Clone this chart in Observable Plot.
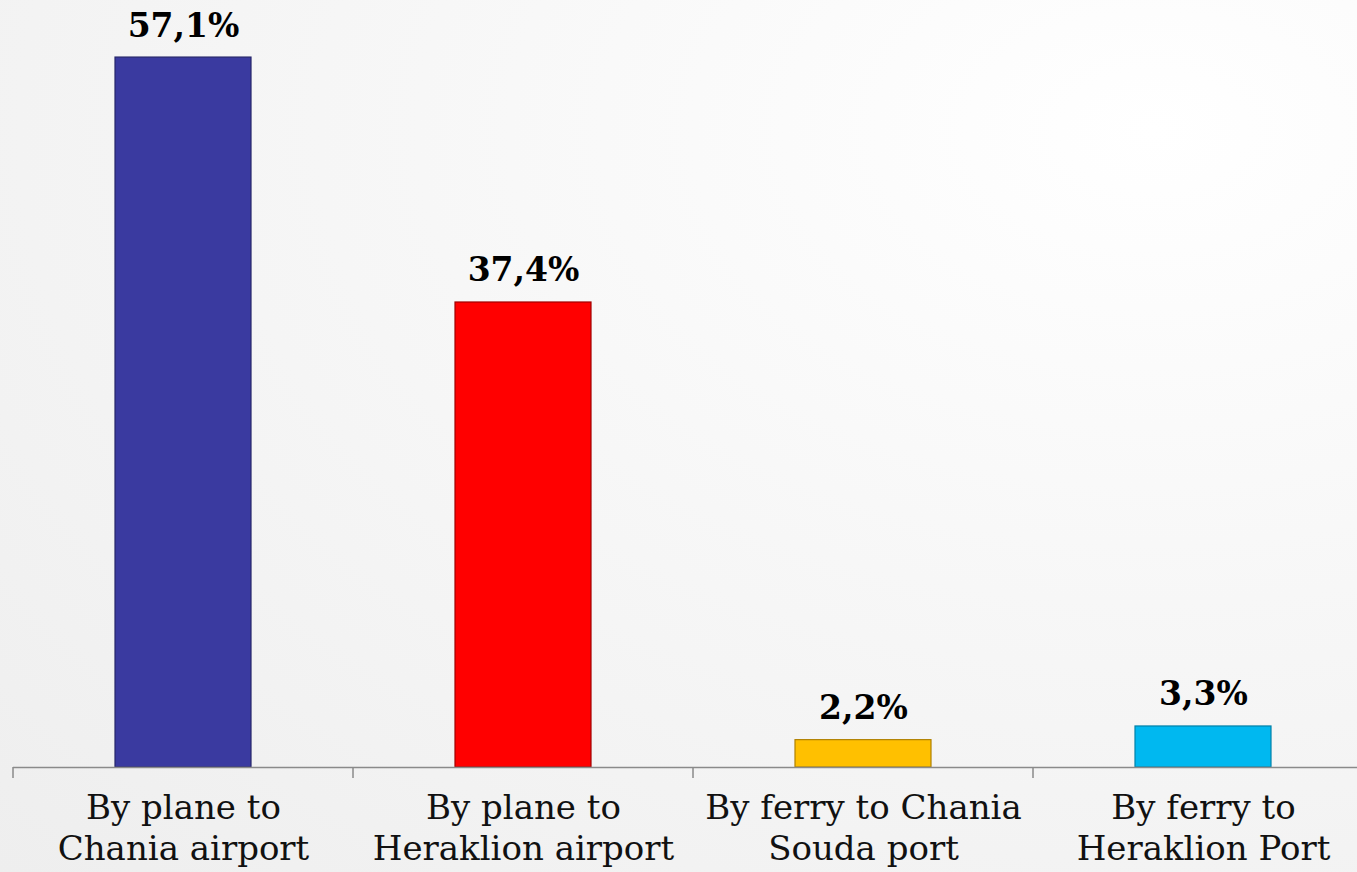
<!DOCTYPE html>
<html>
<head>
<meta charset="utf-8">
<script src="https://cdn.jsdelivr.net/npm/d3@7"></script>
<script src="https://cdn.jsdelivr.net/npm/@observablehq/plot@0.6"></script>
<style>
  html, body { margin: 0; padding: 0; width: 1357px; height: 872px; overflow: hidden; }
  body { background: radial-gradient(ellipse at 85% 15%, #ffffff 0%, #f7f7f7 45%, #eeeeee 100%); }
  #chart svg { display: block; background: transparent; }
</style>
</head>
<body>
<div id="chart"></div>
<script>
const categories = [
  "By plane to\nChania airport",
  "By plane to\nHeraklion airport",
  "By ferry to Chania\nSouda port",
  "By ferry to\nHeraklion Port"
];
const values = [57.1, 37.4, 2.2, 3.3];
const colors = ["#3a3aa0", "#ff0000", "#ffc000", "#00b8f0"];
const strokes = ["#26266a", "#a00000", "#b08000", "#0080a8"];

const data = categories.map((c, i) => ({cat: c, value: values[i], color: colors[i], stroke: strokes[i]}));
const fmt = v => v.toFixed(1).replace(".", ",") + "%";

function bandTicks(index, scales, values, dimensions) {
  const x = scales.x, y = scales.y;
  const step = x.step ? x.step() : (x(categories[1]) - x(categories[0]));
  const bw = x.bandwidth ? x.bandwidth() : step * 0.4;
  const g = d3.create("svg:g");
  const y0 = y(0);
  categories.forEach(c => {
    const bx = x(c) - (step - bw) / 2;
    g.append("line")
      .attr("x1", bx).attr("x2", bx)
      .attr("y1", y0).attr("y2", y0 + 11)
      .attr("stroke", "#8a8a8a").attr("stroke-width", 1.5);
  });
  return g.node();
}

const chart = Plot.plot({
  width: 1357,
  height: 872,
  marginTop: 21,
  marginBottom: 105,
  marginLeft: 13,
  marginRight: 0,
  style: {background: "transparent", overflow: "visible"},
  x: {domain: categories, range: [13, 1373], paddingInner: 0.6, paddingOuter: 0.3, axis: null},
  y: {domain: [0, 60], axis: null},
  marks: [
    Plot.barY(data, {x: "cat", y: "value", fill: "color", stroke: "stroke", strokeWidth: 1.2}),
    Plot.ruleY([0], {stroke: "#8a8a8a", strokeWidth: 1.5}),
    bandTicks,
    Plot.text(data, {
      x: "cat", y: "value", text: d => fmt(d.value),
      lineAnchor: "bottom", dy: -21,
      fontFamily: "DejaVu Serif", fontWeight: "bold", fontSize: 33, fill: "#000"
    }),
    Plot.text(data, {
      x: "cat", y: () => 0, text: "cat",
      lineAnchor: "top", dy: 23, lineHeight: 1.2,
      fontFamily: "DejaVu Serif", fontSize: 34, fill: "#111"
    })
  ]
});
document.getElementById("chart").appendChild(chart);
</script>
</body>
</html>
